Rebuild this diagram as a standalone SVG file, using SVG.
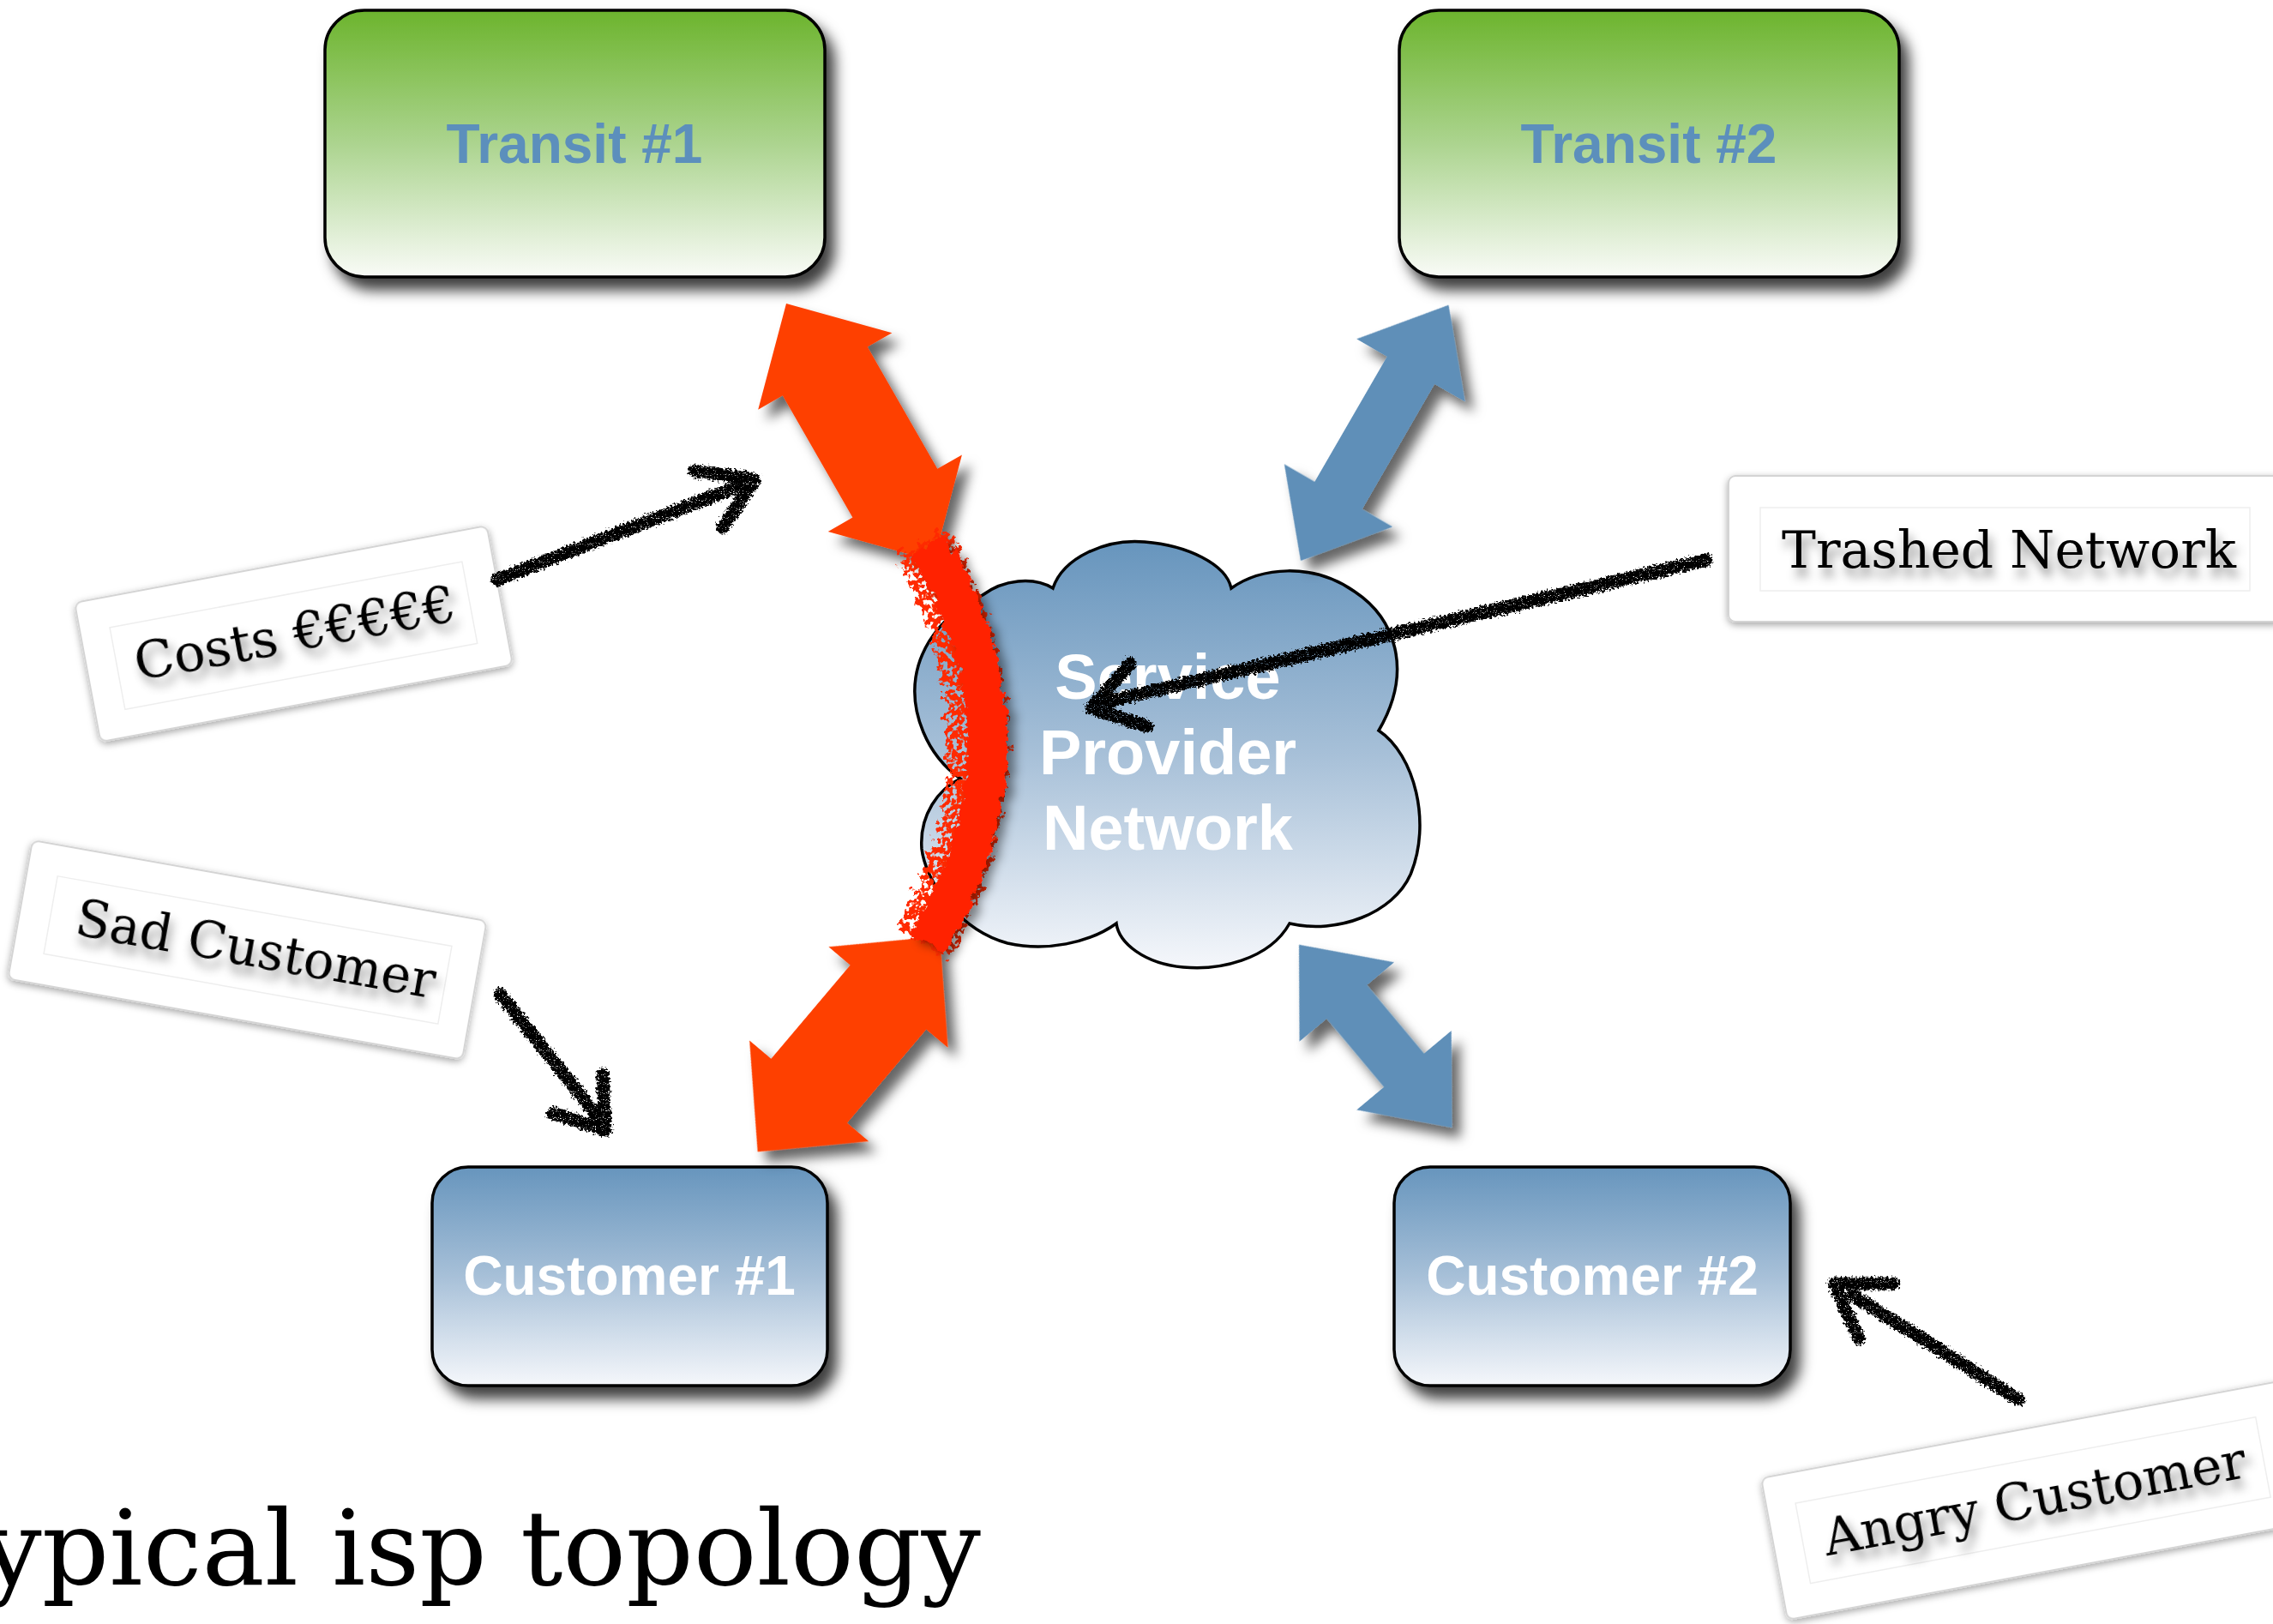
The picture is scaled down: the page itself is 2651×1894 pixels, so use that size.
<svg xmlns="http://www.w3.org/2000/svg" width="2651" height="1894" viewBox="0 0 2651 1894">
  <defs>
    <linearGradient id="gGreen" x1="0" y1="0" x2="0" y2="1">
      <stop offset="0" stop-color="#6cb42d"/>
      <stop offset="0.5" stop-color="#acd48f"/>
      <stop offset="1" stop-color="#f9fbf7"/>
    </linearGradient>
    <linearGradient id="gBlue" x1="0" y1="0" x2="0" y2="1">
      <stop offset="0" stop-color="#6795bd"/>
      <stop offset="0.5" stop-color="#a7c0d8"/>
      <stop offset="1" stop-color="#f5f7fb"/>
    </linearGradient>
    <filter id="boxShadow" x="-10%" y="-10%" width="130%" height="135%">
      <feGaussianBlur in="SourceAlpha" stdDeviation="8"/>
      <feOffset dx="10" dy="14" result="b"/>
      <feFlood flood-color="#000" flood-opacity="0.75"/>
      <feComposite in2="b" operator="in" result="s"/>
      <feMerge><feMergeNode in="s"/><feMergeNode in="SourceGraphic"/></feMerge>
    </filter>
    <filter id="arrowShadow" x="-20%" y="-20%" width="150%" height="150%">
      <feGaussianBlur in="SourceAlpha" stdDeviation="7"/>
      <feOffset dx="10" dy="12" result="b"/>
      <feFlood flood-color="#000" flood-opacity="0.6"/>
      <feComposite in2="b" operator="in" result="s"/>
      <feMerge><feMergeNode in="s"/><feMergeNode in="SourceGraphic"/></feMerge>
    </filter>
    <filter id="cardShadow" x="-10%" y="-20%" width="120%" height="140%">
      <feGaussianBlur in="SourceAlpha" stdDeviation="4"/>
      <feOffset dx="0" dy="3" result="b"/>
      <feFlood flood-color="#000" flood-opacity="0.35"/>
      <feComposite in2="b" operator="in" result="s"/>
      <feMerge><feMergeNode in="s"/><feMergeNode in="SourceGraphic"/></feMerge>
    </filter>
    <filter id="textShadow" x="-10%" y="-40%" width="120%" height="200%">
      <feGaussianBlur in="SourceAlpha" stdDeviation="6"/>
      <feOffset dx="4" dy="10" result="b"/>
      <feFlood flood-color="#000" flood-opacity="0.45"/>
      <feComposite in2="b" operator="in" result="s"/>
      <feMerge><feMergeNode in="s"/><feMergeNode in="SourceGraphic"/></feMerge>
    </filter>
    <!-- rough crayon stroke: jittered edges plus small gaps -->
    <filter id="chalk" filterUnits="userSpaceOnUse" x="0" y="0" width="2651" height="1894">
      <feTurbulence type="fractalNoise" baseFrequency="0.35" numOctaves="3" seed="3" result="n"/>
      <feDisplacementMap in="SourceGraphic" in2="n" scale="10" xChannelSelector="R" yChannelSelector="G" result="d"/>
      <feTurbulence type="fractalNoise" baseFrequency="0.9" numOctaves="1" seed="11" result="n2"/>
      <feColorMatrix in="n2" type="matrix" values="0 0 0 0 0  0 0 0 0 0  0 0 0 0 0  8 0 0 0 -2.0" result="m"/>
      <feComposite in="d" in2="m" operator="in"/>
    </filter>
    <!-- spray texture for the red damage mark -->
    <filter id="spray" filterUnits="userSpaceOnUse" x="950" y="560" width="350" height="600">
      <feTurbulence type="fractalNoise" baseFrequency="0.09" numOctaves="3" seed="5" result="n"/>
      <feDisplacementMap in="SourceGraphic" in2="n" scale="22" xChannelSelector="R" yChannelSelector="G" result="d"/>
      <feTurbulence type="fractalNoise" baseFrequency="0.18" numOctaves="2" seed="9" result="n2"/>
      <feColorMatrix in="n2" type="matrix" values="0 0 0 0 0  0 0 0 0 0  0 0 0 0 0  10 0 0 0 -4.0" result="m"/>
      <feComposite in="d" in2="m" operator="in"/>
    </filter>
    <filter id="sprayCore" filterUnits="userSpaceOnUse" x="950" y="560" width="350" height="600">
      <feTurbulence type="fractalNoise" baseFrequency="0.08" numOctaves="3" seed="2" result="n"/>
      <feDisplacementMap in="SourceGraphic" in2="n" scale="16" xChannelSelector="R" yChannelSelector="G" result="d"/>
      <feGaussianBlur in="d" stdDeviation="6" result="sb"/>
      <feOffset in="sb" dx="9" dy="6" result="so"/>
      <feFlood flood-color="#000" flood-opacity="0.45"/>
      <feComposite in2="so" operator="in" result="s"/>
      <feMerge><feMergeNode in="s"/><feMergeNode in="d"/></feMerge>
    </filter>
  </defs>
  <style>
    .box { stroke: #000; stroke-width: 3.5; }
    .boxLabel { font-family: "Liberation Sans", Arial, sans-serif; font-weight: bold; font-size: 64px; text-anchor: middle; }
    .cloudLabel { font-family: "Liberation Sans", Arial, sans-serif; font-weight: bold; font-size: 74px; text-anchor: middle; fill: #ffffff; }
    .card { fill: #ffffff; stroke: #d4d4d4; stroke-width: 2; }
    .cardInner { fill: none; stroke: #eeeeee; stroke-width: 1.5; }
    .cardText { font-family: "DejaVu Serif", "Liberation Serif", serif; font-size: 60px; fill: #000; }
    .fatOrange { fill: #fe4100; }
    .fatBlue { fill: #5f8fb8; }
    .sketch { fill: none; stroke: #000; stroke-width: 15; stroke-linecap: round; stroke-linejoin: round; }
  </style>

  <rect x="0" y="0" width="2651" height="1894" fill="#ffffff"/>

  <!-- upstream transit providers -->
  <g id="transit1" filter="url(#boxShadow)">
    <rect class="box" x="379" y="12" width="583" height="311" rx="46" fill="url(#gGreen)"/>
    <text class="boxLabel" x="670" y="190" fill="#5b8fbc">Transit #1</text>
  </g>
  <g id="transit2" filter="url(#boxShadow)">
    <rect class="box" x="1632" y="12" width="583" height="311" rx="46" fill="url(#gGreen)"/>
    <text class="boxLabel" x="1923" y="190" fill="#5b8fbc">Transit #2</text>
  </g>

  <!-- customers -->
  <g id="customer1" filter="url(#boxShadow)">
    <rect class="box" x="504" y="1361" width="461" height="255" rx="42" fill="url(#gBlue)"/>
    <text class="boxLabel" x="734" y="1510" fill="#ffffff">Customer #1</text>
  </g>
  <g id="customer2" filter="url(#boxShadow)">
    <rect class="box" x="1626" y="1361" width="462" height="255" rx="42" fill="url(#gBlue)"/>
    <text class="boxLabel" x="1857" y="1510" fill="#ffffff">Customer #2</text>
  </g>

  <!-- service provider cloud -->
  <g id="spn-cloud">
    <path class="box" fill="url(#gBlue)" d="M 1146,694
      C 1170,676 1205,672 1228,686
      C 1240,650 1290,628 1335,632
      C 1385,636 1430,658 1436,686
      C 1470,662 1530,655 1580,690
      C 1625,720 1650,780 1608,852
      C 1650,880 1670,960 1645,1020
      C 1625,1065 1560,1090 1504,1077
      C 1480,1120 1420,1132 1380,1128
      C 1335,1124 1305,1100 1302,1077
      C 1270,1100 1220,1110 1175,1100
      C 1120,1085 1080,1030 1075,990
      C 1072,950 1095,920 1120,908
      C 1080,880 1062,830 1068,790
      C 1075,745 1110,710 1146,694 Z"/>
    <text class="cloudLabel" x="1362" y="815">Service</text>
    <text class="cloudLabel" x="1362" y="903">Provider</text>
    <text class="cloudLabel" x="1362" y="991">Network</text>
  </g>

  <!-- links between the network and its neighbours -->
  <g id="connectors">
    <g filter="url(#arrowShadow)">
      <polygon class="fatOrange" transform="translate(917,354) rotate(60.17)"
        points="0,0 91,-90 91,-57 255,-57 255,-90 346,0 255,90 255,57 91,57 91,90"/>
      <polygon class="fatOrange" transform="translate(1096,1092) rotate(130.2)"
        points="0,0 93,-91 93,-58 236,-58 236,-91 329,0 236,91 236,58 93,58 93,91"/>
      <polygon class="fatBlue" transform="translate(1689.5,355.7) rotate(120.04)"
        points="0,0 88,-73 88,-32 256.6,-32 256.6,-73 344.6,0 256.6,73 256.6,32 88,32 88,73"/>
      <polygon class="fatBlue" transform="translate(1515,1101.7) rotate(50.1)"
        points="0,0 87,-72 87,-30.5 191,-30.5 191,-72 278,0 191,72 191,30.5 87,30.5 87,72"/>
    </g>
  </g>

  <!-- red damage mark across the Transit #1 / Customer #1 side -->
  <g id="damage">
    <path filter="url(#spray)" fill="none" stroke="#ff2a00" stroke-width="70" d="M 1074,632 Q 1206,865 1076,1100"/>
    <path filter="url(#sprayCore)" fill="none" stroke="#ff2200" stroke-width="46" d="M 1082,636 Q 1222,865 1082,1098"/>
  </g>

  <!-- annotation cards -->
  <g id="label-costs" transform="translate(87,703) rotate(-10.6)">
    <rect class="card" x="0" y="0" width="489" height="165" rx="8" filter="url(#cardShadow)"/>
    <rect class="cardInner" x="35" y="36" width="418" height="97"/>
    <text class="cardText" x="56" y="103" textLength="380" lengthAdjust="spacingAndGlyphs" filter="url(#textShadow)">Costs €€€€€</text>
  </g>
  <g id="label-sad" transform="translate(38,980) rotate(10.08)">
    <rect class="card" x="0" y="0" width="538" height="164" rx="8" filter="url(#cardShadow)"/>
    <rect class="cardInner" x="36" y="36" width="467" height="92"/>
    <text class="cardText" x="66" y="100" textLength="425" lengthAdjust="spacingAndGlyphs" filter="url(#textShadow)">Sad Customer</text>
  </g>
  <g id="label-trashed">
    <rect class="card" x="2016" y="555" width="645" height="170" rx="8" filter="url(#cardShadow)"/>
    <rect class="cardInner" x="2053" y="592" width="571" height="97"/>
    <text class="cardText" x="2078" y="662" textLength="530" lengthAdjust="spacingAndGlyphs" filter="url(#textShadow)">Trashed Network</text>
  </g>
  <g id="label-angry" transform="translate(2054,1724) rotate(-10.6)">
    <rect class="card" x="0" y="0" width="615" height="168" rx="8" filter="url(#cardShadow)"/>
    <rect class="cardInner" x="34" y="36" width="546" height="95"/>
    <text class="cardText" x="59" y="103" textLength="500" lengthAdjust="spacingAndGlyphs" filter="url(#textShadow)">Angry Customer</text>
  </g>

  <!-- hand-drawn pointers from the cards -->
  <g id="pointers" filter="url(#chalk)">
    <path class="sketch" d="M 580,676 L 862,567 M 810,549 L 880,559 L 843,615"/>
    <path class="sketch" d="M 1990,653 L 1293,818 M 1318,774 L 1273,826 L 1338,847"/>
    <path class="sketch" d="M 583,1159 L 700,1306 M 703,1253 L 706,1318 L 645,1298"/>
    <path class="sketch" d="M 2354,1632 L 2160,1510 M 2208,1497 L 2139,1497 L 2168,1561"/>
  </g>

  <text id="title" x="1144" y="1848" text-anchor="end" font-family="'DejaVu Serif', 'Liberation Serif', serif" font-size="122" textLength="1214" lengthAdjust="spacingAndGlyphs" fill="#000">typical isp topology</text>
</svg>
